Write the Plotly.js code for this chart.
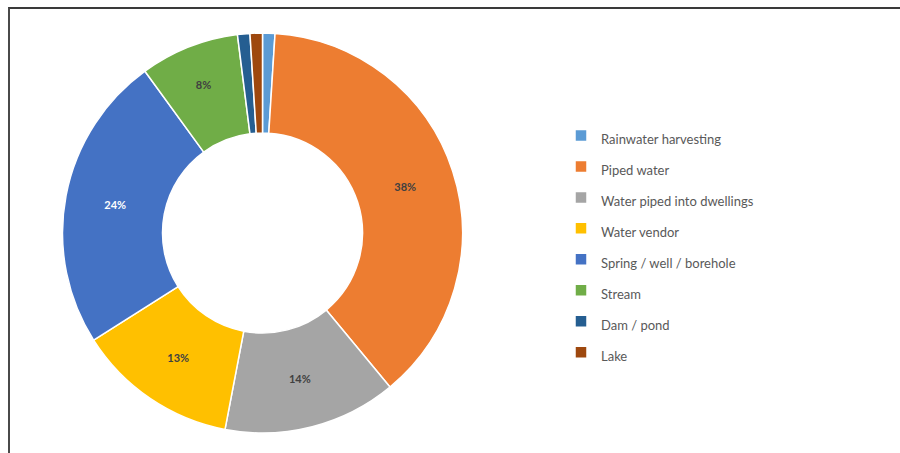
<!DOCTYPE html>
<html>
<head>
<meta charset="utf-8">
<script src="https://cdn.plot.ly/plotly-3.0.1.min.js"></script>
<style>
  html, body { margin: 0; padding: 0; background: #ffffff; }
  #wrap { position: relative; width: 900px; height: 453px; }
  #chart { width: 900px; height: 453px; }
  #frame { position: absolute; left: 8px; top: 7px; width: 892px; height: 446px;
           border-left: 2px solid #4a4a4a; border-top: 2px solid #3a3a3a; box-sizing: border-box; pointer-events: none; }
</style>
</head>
<body>
<div id="wrap">
  <div id="chart"></div>
  <div id="frame"></div>
</div>
<script>
const categories = ["Rainwater harvesting", "Piped water", "Water piped into dwellings", "Water vendor",
                    "Spring / well / borehole", "Stream", "Dam / pond", "Lake"];
const shares = [1, 38, 14, 13, 24, 8, 1, 1];
const sliceLabels = ["", "38%", "14%", "13%", "24%", "8%", "", ""];
const sliceColors = ["#5B9BD5", "#ED7D31", "#A5A5A5", "#FFC000", "#4472C4", "#70AD47", "#255E91", "#9E480E"];
const labelColors = ["#404040", "#404040", "#404040", "#404040", "#ffffff", "#404040", "#404040", "#404040"];

const legendLabels = categories.map(c => '<span style="font-size:13px">' + c + '</span>');

const trace = {
  type: "pie",
  labels: legendLabels,
  values: shares,
  text: sliceLabels,
  textinfo: "text",
  textposition: "inside",
  insidetextorientation: "horizontal",
  textfont: { family: "Lato, 'Open Sans', sans-serif", size: 11, color: labelColors, weight: "bold" },
  hole: 0.5,
  sort: false,
  direction: "clockwise",
  rotation: 0,
  marker: { colors: sliceColors, line: { color: "#ffffff", width: 1.5 } },
  domain: { x: [62/900, 463/900], y: [20/453, 420/453] },
  hoverinfo: "label+percent"
};

const layout = {
  width: 900,
  height: 453,
  margin: { l: 0, r: 0, t: 0, b: 0 },
  paper_bgcolor: "#ffffff",
  showlegend: true,
  legend: {
    x: 561/900, y: 1 - 115/453, xanchor: "left", yanchor: "top",
    font: { family: "Lato, 'Open Sans', sans-serif", size: 21.5, color: "#595959" },
    bgcolor: "rgba(0,0,0,0)"
  }
};

Plotly.newPlot("chart", [trace], layout, { displayModeBar: false, staticPlot: true });
</script>
</body>
</html>
